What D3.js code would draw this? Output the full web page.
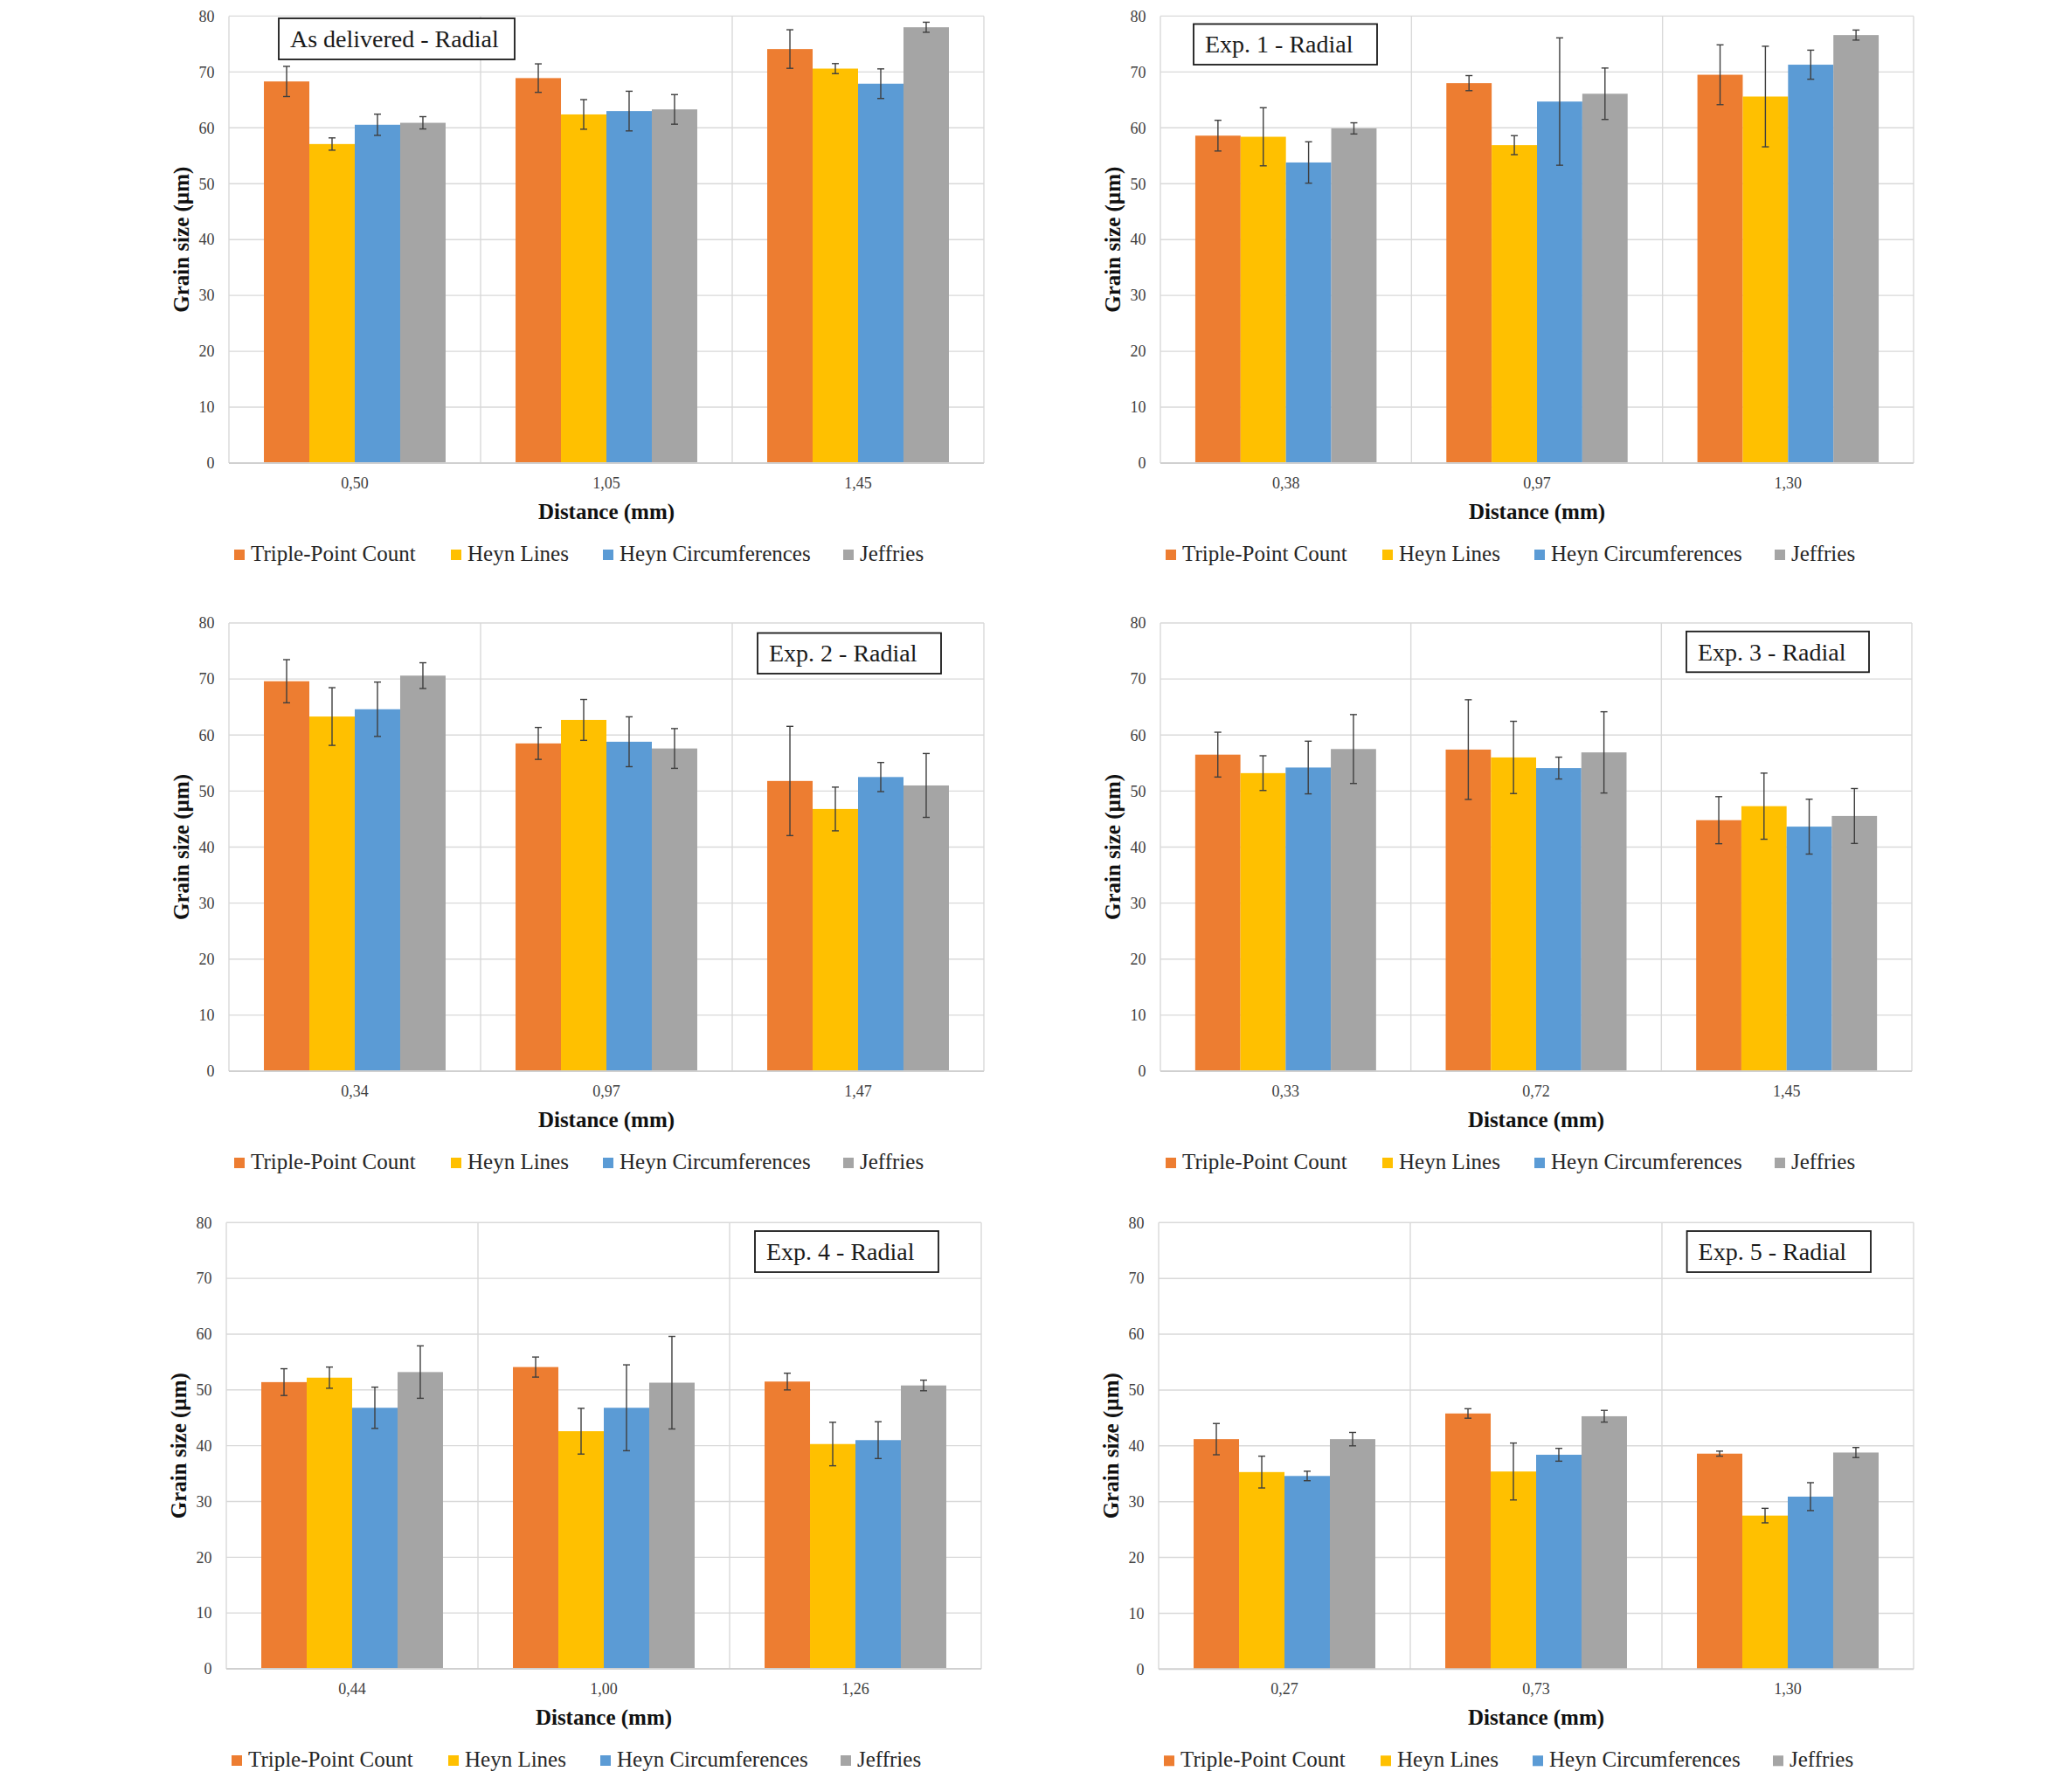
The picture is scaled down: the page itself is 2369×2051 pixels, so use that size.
<!DOCTYPE html>
<html>
<head>
<meta charset="utf-8">
<script src="https://cdn.jsdelivr.net/npm/d3@7"></script>
<style>
  html, body { margin: 0; padding: 0; background: #ffffff; }
  svg { display: block; }
</style>
</head>
<body>
<svg id="chart" width="2369" height="2051"></svg>
<script>
// ---------------- DATA ----------------
const seriesNames = ["Triple-Point Count", "Heyn Lines", "Heyn Circumferences", "Jeffries"];
const panelTitles = ["As delivered - Radial", "Exp. 1 - Radial", "Exp. 2 - Radial", "Exp. 3 - Radial", "Exp. 4 - Radial", "Exp. 5 - Radial"];
const distanceLabels = [
  ["0,50", "1,05", "1,45"],
  ["0,38", "0,97", "1,30"],
  ["0,34", "0,97", "1,47"],
  ["0,33", "0,72", "1,45"],
  ["0,44", "1,00", "1,26"],
  ["0,27", "0,73", "1,30"]
];
const yTicks = [0, 10, 20, 30, 40, 50, 60, 70, 80];
const xAxisTitle = "Distance (mm)";
const yAxisTitle = "Grain size (µm)";

const tripleValues = [[68.3, 68.9, 74.1], [58.6, 68.0, 69.5], [69.6, 58.5, 51.8], [56.5, 57.4, 44.8], [51.4, 54.1, 51.5], [41.2, 45.8, 38.6]];
const tripleErrors = [[2.7, 2.55, 3.45], [2.75, 1.35, 5.35], [3.85, 2.85, 9.75], [4.0, 8.9, 4.2], [2.4, 1.8, 1.5], [2.8, 0.85, 0.45]];
const heynLinesValues = [[57.1, 62.4, 70.6], [58.4, 56.9, 65.6], [63.3, 62.7, 46.8], [53.2, 56.0, 47.3], [52.2, 42.6, 40.3], [35.3, 35.4, 27.5]];
const heynLinesErrors = [[1.1, 2.65, 0.9], [5.2, 1.7, 9.0], [5.15, 3.65, 3.9], [3.1, 6.45, 5.9], [1.9, 4.1, 3.9], [2.85, 5.1, 1.3]];
const heynCircValues = [[60.55, 63.0, 67.9], [53.8, 64.7, 71.3], [64.6, 58.8, 52.5], [54.2, 54.1, 43.65], [46.8, 46.8, 41.0], [34.6, 38.4, 30.9]];
const heynCircErrors = [[1.9, 3.55, 2.65], [3.7, 11.4, 2.6], [4.85, 4.45, 2.6], [4.7, 1.95, 4.9], [3.7, 7.7, 3.3], [0.85, 1.15, 2.5]];
const jeffriesValues = [[60.9, 63.3, 78.0], [59.9, 66.1, 76.6], [70.6, 57.6, 51.0], [57.5, 56.9, 45.55], [53.2, 51.3, 50.8], [41.2, 45.3, 38.8]];
const jeffriesErrors = [[1.1, 2.65, 0.9], [1.0, 4.6, 0.9], [2.3, 3.55, 5.7], [6.15, 7.25, 4.9], [4.7, 8.3, 0.95], [1.2, 1.05, 0.9]];

// ---------------- STYLE / LAYOUT ----------------
const seriesColors = ["#ED7D31", "#FFC000", "#5B9BD5", "#A5A5A5"];
const allValues = [tripleValues, heynLinesValues, heynCircValues, jeffriesValues];
const allErrors = [tripleErrors, heynLinesErrors, heynCircErrors, jeffriesErrors];

const panelLayout = [
  { x: 262,  y: 18.4,   w: 864, h: 511.6, box: [319, 21, 270, 47] },
  { x: 1328, y: 18.4,   w: 862, h: 511.6, box: [1366, 27.5, 210, 46.5] },
  { x: 262,  y: 713,    w: 864, h: 513,   box: [867, 724.5, 210, 46.5] },
  { x: 1328, y: 713,    w: 860, h: 513,   box: [1930, 722.7, 209, 46.6] },
  { x: 259,  y: 1399.3, w: 864, h: 510.7, box: [864, 1409, 210, 47] },
  { x: 1326, y: 1399.3, w: 864, h: 511,   box: [1930.6, 1409, 210.4, 47] }
];
const legendOffsets = [6, 254, 428, 703];
const FONT = "'Liberation Serif', 'Times New Roman', Times, serif";

const svg = d3.select("#chart");
svg.append("rect").attr("width", 2369).attr("height", 2051).attr("fill", "#ffffff");

panelLayout.forEach((L, p) => {
  const g = svg.append("g");
  const cats = distanceLabels[p];

  const y = d3.scaleLinear().domain([0, 80]).range([L.y + L.h, L.y]);
  const x0 = d3.scaleBand().domain(cats).range([L.x, L.x + L.w]).padding(0);
  const groupFrac = 0.722;
  const groupW = x0.bandwidth() * groupFrac;
  const x1 = d3.scaleBand().domain(seriesNames).range([0, groupW]).padding(0);
  const groupOffset = (x0.bandwidth() - groupW) / 2;

  // horizontal gridlines
  g.append("g").selectAll("line").data(yTicks.filter(t => t > 0)).join("line")
    .attr("x1", L.x).attr("x2", L.x + L.w)
    .attr("y1", d => y(d)).attr("y2", d => y(d))
    .attr("stroke", "#D9D9D9").attr("stroke-width", 1.4);

  // vertical gridlines at category boundaries
  const bounds = cats.map(c => x0(c)).concat([L.x + L.w]);
  g.append("g").selectAll("line").data(bounds).join("line")
    .attr("x1", d => d).attr("x2", d => d)
    .attr("y1", L.y).attr("y2", L.y + L.h)
    .attr("stroke", "#D9D9D9").attr("stroke-width", 1.4);

  // bars
  const barData = [];
  seriesNames.forEach((s, si) => {
    cats.forEach((c, ci) => {
      barData.push({ s, si, c, v: allValues[si][p][ci], e: allErrors[si][p][ci] });
    });
  });
  g.append("g").selectAll("rect").data(barData).join("rect")
    .attr("x", d => x0(d.c) + groupOffset + x1(d.s))
    .attr("width", x1.bandwidth())
    .attr("y", d => y(d.v))
    .attr("height", d => y(0) - y(d.v))
    .attr("fill", d => seriesColors[d.si]);

  // error bars
  const eg = g.append("g").attr("stroke", "#3F3F3F").attr("stroke-width", 1.4);
  const cx = d => x0(d.c) + groupOffset + x1(d.s) + x1.bandwidth() / 2;
  const capHalf = 4;
  eg.selectAll("line.v").data(barData).join("line").attr("class", "v")
    .attr("x1", cx).attr("x2", cx)
    .attr("y1", d => y(d.v + d.e)).attr("y2", d => y(d.v - d.e));
  eg.selectAll("line.t").data(barData).join("line").attr("class", "t")
    .attr("x1", d => cx(d) - capHalf).attr("x2", d => cx(d) + capHalf)
    .attr("y1", d => y(d.v + d.e)).attr("y2", d => y(d.v + d.e));
  eg.selectAll("line.b").data(barData).join("line").attr("class", "b")
    .attr("x1", d => cx(d) - capHalf).attr("x2", d => cx(d) + capHalf)
    .attr("y1", d => y(d.v - d.e)).attr("y2", d => y(d.v - d.e));

  // bottom axis line
  g.append("line")
    .attr("x1", L.x).attr("x2", L.x + L.w)
    .attr("y1", y(0)).attr("y2", y(0))
    .attr("stroke", "#D0D0D0").attr("stroke-width", 2);

  // y axis (labels only)
  const yAxis = d3.axisLeft(y).tickValues(yTicks).tickSize(0).tickPadding(16.5);
  const ya = g.append("g").attr("transform", `translate(${L.x},0)`).call(yAxis);
  ya.select(".domain").remove();
  ya.selectAll("text").attr("font-family", FONT).attr("font-size", 18).attr("fill", "#404040");

  // x axis (labels only)
  const xAxis = d3.axisBottom(x0).tickSize(0).tickPadding(0);
  const xa = g.append("g").attr("transform", `translate(0,${y(0)})`).call(xAxis);
  xa.select(".domain").remove();
  xa.selectAll("text").attr("dy", null).attr("y", 29).attr("font-family", FONT).attr("font-size", 18).attr("fill", "#404040");

  // axis titles
  g.append("text")
    .attr("x", L.x + L.w / 2).attr("y", y(0) + 64)
    .attr("text-anchor", "middle").attr("font-family", FONT)
    .attr("font-size", 25).attr("font-weight", "bold").attr("fill", "#111")
    .text(xAxisTitle);
  g.append("text")
    .attr("transform", `translate(${L.x - 46},${L.y + L.h / 2}) rotate(-90)`)
    .attr("text-anchor", "middle").attr("font-family", FONT)
    .attr("font-size", 25).attr("font-weight", "bold").attr("fill", "#111")
    .text(yAxisTitle);

  // title box
  const [bx, by, bw, bh] = L.box;
  g.append("rect").attr("x", bx).attr("y", by).attr("width", bw).attr("height", bh)
    .attr("fill", "#ffffff").attr("stroke", "#1a1a1a").attr("stroke-width", 1.8);
  g.append("text")
    .attr("x", bx + 13).attr("y", by + bh / 2 + 9.5)
    .attr("font-family", FONT).attr("font-size", 28).attr("fill", "#1a1a1a")
    .text(panelTitles[p]);

  // legend
  const lg = g.append("g");
  seriesNames.forEach((s, si) => {
    const lx = L.x + legendOffsets[si];
    const ly = y(0) + 112;
    lg.append("rect").attr("x", lx).attr("y", ly - 13).attr("width", 12).attr("height", 12)
      .attr("fill", seriesColors[si]);
    lg.append("text").attr("x", lx + 19).attr("y", ly)
      .attr("font-family", FONT).attr("font-size", 25).attr("fill", "#262626")
      .text(s);
  });
});
</script>
</body>
</html>
